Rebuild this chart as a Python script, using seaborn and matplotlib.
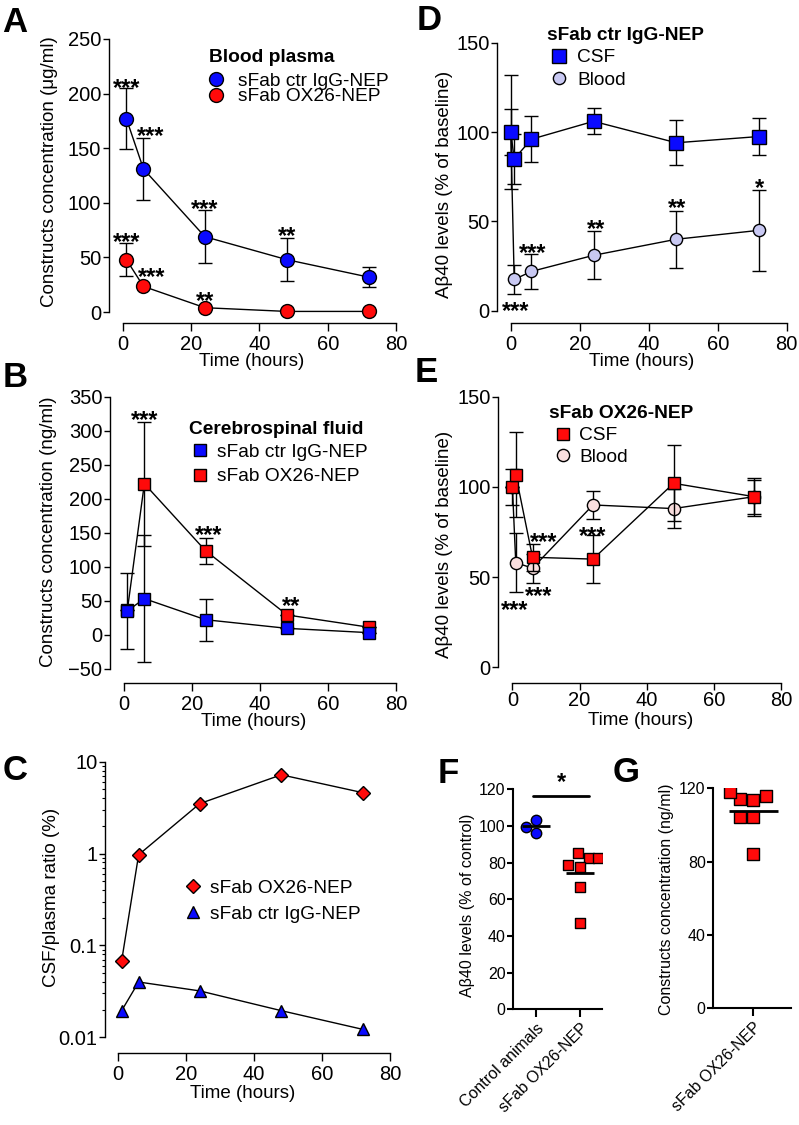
import numpy as np
import pandas as pd
import matplotlib
matplotlib.use("Agg")
import matplotlib.pyplot as plt
from matplotlib.lines import Line2D
from matplotlib.ticker import FixedLocator, FuncFormatter
import seaborn as sns

# ---------------- data ----------------
time_abc = [1, 6, 24, 48, 72]
plasma_ctr = [177, 131, 69, 48, 32]
plasma_ctr_err = [28, 28, 24, 20, 9]
plasma_ox26 = [48, 23.5, 4, 0.6, 0.6]
plasma_ox26_err = [15, 0, 0, 0, 0]

csf_ctr = [35, 53, 22, 9.3, 3]
csf_ctr_err = [56, 93, 31, 0, 0]
csf_ox26 = [36, 222, 123.5, 29, 11]
csf_ox26_err = [0, 91, 19, 0, 0]

ratio_ox26 = [0.068, 0.97, 3.5, 7.2, 4.6]
ratio_ctr = [0.0195, 0.040, 0.032, 0.0195, 0.0122]

time_de = [0, 1, 6, 24, 48, 72]
ctr_csf = [100, 85, 96, 106, 94, 97.5]
ctr_csf_err = [32, 14, 12.7, 7.3, 12.7, 10.2]
ctr_blood = [100, 17.5, 22, 31, 40, 45]
ctr_blood_err = [13, 8.3, 10, 13.5, 16, 22.7]

ox_csf = [100, 106.8, 61, 60, 102, 94.6]
ox_csf_err = [10, 23.4, 7.6, 13.3, 21, 10.6]
ox_blood = [100, 58, 55, 90, 88, 94.6]
ox_blood_err = [0, 16.5, 8, 7.7, 11, 9.5]

f_groups = ["Control animals", "sFab OX26-NEP"]
f_control = [103.5, 99.5, 96.2]
f_ox26 = [82.3, 85.3, 82.3, 77.7, 78.5, 66.8, 47.2]
g_group = ["sFab OX26-NEP"]
g_ox26 = [115.8, 113.6, 114.2, 118.2, 104.5, 104.2, 84.2]

# significance labels: (x, y, text)
stars_a = [(1, 211, "***"), (8, 167, "***"), (24, 100, "***"), (48, 75, "**"),
           (1, 70, "***"), (8.4, 38, "***"), (24, 15.6, "**")]
stars_b = [(6, 325, "***"), (25, 156, "***"), (49, 51, "**")]
stars_d = [(1.5, 3.2, "***"), (6.3, 36, "***"), (24.6, 49, "**"), (48.3, 61, "**"), (72, 72, "*")]
stars_e = [(9.2, 73, "***"), (7.8, 43, "***"), (23.9, 76.5, "***"), (0.8, 35, "***")]

# ---------------- style ----------------
sns.set_theme(style="ticks")
plt.rcParams["font.family"] = ["Liberation Sans", "DejaVu Sans"]
plt.rcParams.update({"axes.edgecolor": "black", "xtick.color": "black",
                     "ytick.color": "black", "text.color": "black",
                     "axes.labelcolor": "black", "axes.linewidth": 1.0})

BLUE = "#0a0aff"
RED = "#ff0a0a"
LAV = "#c8c8f2"
PINK = "#f9dede"

W, H = 799, 1125
fig = plt.figure(figsize=(W / 100, H / 100), dpi=100)
fig.patch.set_facecolor("white")

TICK_FS = 14.5
LAB_FS = 13.5
LEG_FS = 13.8
STAR_FS = 17


def add_ax(l, r, t, b):
    return fig.add_axes([l / W, 1 - b / H, (r - l) / W, (b - t) / H])


def px_frac(ax, xpx, ypx):
    l, b, w, h = ax.get_position().bounds
    return ((xpx / W) - l) / w, ((1 - ypx / H) - b) / h


def style(ax, xb, yb, tfs=TICK_FS, lw=1.0, xpad=2.5, xlen=6):
    sns.despine(ax=ax)
    ax.spines["left"].set_bounds(*yb)
    ax.spines["bottom"].set_bounds(*xb)
    for s in ("left", "bottom"):
        ax.spines[s].set_linewidth(lw)
    ax.tick_params(axis="y", length=4, width=lw, pad=1.5, labelsize=tfs)
    ax.tick_params(axis="x", length=xlen, width=lw, pad=xpad, labelsize=tfs)
    ax.set_facecolor("none")


def series(ax, x, y, err, marker, fc, ms, z):
    ax.errorbar(x, y, yerr=err, fmt="none", ecolor="black", elinewidth=1,
                capsize=4.7, capthick=1, zorder=z - 0.5)
    sns.lineplot(x=x, y=y, ax=ax, color="black", lw=1, marker=marker,
                 markersize=ms, markerfacecolor=fc, markeredgecolor="black",
                 markeredgewidth=1, estimator=None, sort=False, legend=False,
                 zorder=z)


def stars(ax, items):
    for x, y, s in items:
        ax.annotate(s, xy=(x, y), xytext=(0, -0.56 * STAR_FS), textcoords="offset points",
                    ha="center", va="baseline", fontsize=STAR_FS, fontweight="bold",
                    annotation_clip=False)


def legend(ax, entries, x_px, y_px, hl, htp, ls):
    handles = [Line2D([], [], ls="none", marker=m, ms=ms, mfc=fc, mec="black", mew=1)
               for m, fc, ms, _ in entries]
    labels = [e[3] for e in entries]
    leg = ax.legend(handles, labels, loc="upper left",
                    bbox_to_anchor=(x_px / W, 1 - y_px / H), bbox_transform=fig.transFigure,
                    frameon=False, borderpad=0, borderaxespad=0, handlelength=hl,
                    handletextpad=htp, labelspacing=ls, fontsize=LEG_FS)
    return leg


def ylab(ax, text, xr, yc, fs=LAB_FS):
    ax.set_ylabel(text, fontsize=fs)
    ax.yaxis.set_label_coords(*px_frac(ax, xr, yc))


def xlab(ax, text, xc, yt, fs=LAB_FS):
    ax.set_xlabel(text, fontsize=fs)
    ax.xaxis.set_label_coords(*px_frac(ax, xc, yt))


def letter(s, x, yb):
    fig.text(x / W, 1 - yb / H, s, fontsize=25, fontweight="bold", ha="left", va="baseline")


time_ticks = [0, 20, 40, 60, 80]

# ---------------- Panel A ----------------
axA = add_ax(109, 396, 39, 323)
series(axA, time_abc, plasma_ctr, plasma_ctr_err, "o", BLUE, 10, 3)
series(axA, time_abc, plasma_ox26, plasma_ox26_err, "o", RED, 10, 4)
axA.set_xlim(-4.1, 80)
axA.set_ylim(-10, 250)
axA.set_xticks(time_ticks)
axA.set_yticks(range(0, 251, 50))
style(axA, (0, 80), (0, 250))
stars(axA, stars_a)
ylab(axA, "Constructs concentration (μg/ml)", 58, 172)
xlab(axA, "Time (hours)", 252, 353)
fig.text(209 / W, 1 - 62 / H, "Blood plasma", fontsize=LEG_FS, fontweight="bold", ha="left", va="baseline")
legend(axA, [("o", BLUE, 10, "sFab ctr IgG-NEP"), ("o", RED, 10, "sFab OX26-NEP")],
       209, 72.5, 0.75, 0.75, -0.1)

# ---------------- Panel B ----------------
axB = add_ax(110, 396, 396.7, 683.3)
series(axB, time_abc, csf_ox26, csf_ox26_err, "s", RED, 9, 3)
series(axB, time_abc, csf_ctr, csf_ctr_err, "s", BLUE, 9, 4)
axB.set_xlim(-4.1, 80)
axB.set_ylim(-71.5, 350)
axB.set_xticks(time_ticks)
axB.set_yticks(range(-50, 351, 50))
style(axB, (0, 80), (-50, 350))
stars(axB, stars_b)
ylab(axB, "Constructs concentration (ng/ml)", 57, 532)
xlab(axB, "Time (hours)", 254, 713)
fig.text(189.3 / W, 1 - 434 / H, "Cerebrospinal fluid", fontsize=LEG_FS, fontweight="bold", ha="left", va="baseline")
legend(axB, [("s", BLUE, 9, "sFab ctr IgG-NEP"), ("s", RED, 9, "sFab OX26-NEP")],
       189.3, 443.5, 1.14, 0.32, 0.36)

# ---------------- Panel C ----------------
axC = add_ax(105, 390, 761.7, 1052.7)
sns.lineplot(x=time_abc, y=ratio_ox26, ax=axC, color="black", lw=1, marker="D", markersize=6.8,
             markerfacecolor=RED, markeredgecolor="black", markeredgewidth=1,
             estimator=None, sort=False, legend=False, zorder=3)
sns.lineplot(x=time_abc, y=ratio_ctr, ax=axC, color="black", lw=1, marker="^", markersize=9,
             markerfacecolor=BLUE, markeredgecolor="black", markeredgewidth=1,
             estimator=None, sort=False, legend=False, zorder=3)
axC.set_yscale("log")
axC.set_xlim(-3.9, 80)
axC.set_ylim(0.0068, 10)
axC.set_xticks(time_ticks)
axC.yaxis.set_major_locator(FixedLocator([0.01, 0.1, 1, 10]))
axC.yaxis.set_major_formatter(FuncFormatter(lambda v, p: f"{v:g}"))
minor = [m * d for d in (0.01, 0.1, 1) for m in range(2, 10)]
axC.yaxis.set_minor_locator(FixedLocator(minor))
axC.yaxis.set_minor_formatter(FuncFormatter(lambda v, p: ""))
style(axC, (0, 80), (0.01, 10))
axC.tick_params(axis="y", which="minor", length=2, width=0.8)
ylab(axC, "CSF/plasma ratio (%)", 60, 897)
xlab(axC, "Time (hours)", 243, 1085)
legend(axC, [("D", RED, 6.8, "sFab OX26-NEP"), ("^", BLUE, 9, "sFab ctr IgG-NEP")],
       185.2, 879.5, 0.8, 0.49, 0.44)

# ---------------- Panel D ----------------
axD = add_ax(497.3, 786.7, 42.7, 322.7)
series(axD, time_de, ctr_blood, ctr_blood_err, "o", LAV, 8.8, 3)
series(axD, time_de, ctr_csf, ctr_csf_err, "s", BLUE, 9.6, 4)
axD.set_xlim(-3.9, 80)
axD.set_ylim(-6.7, 150)
axD.set_xticks(time_ticks)
axD.set_yticks([0, 50, 100, 150])
style(axD, (0, 80), (0, 150))
stars(axD, stars_d)
ylab(axD, "Aβ40 levels (% of baseline)", 453, 184)
xlab(axD, "Time (hours)", 642, 353)
fig.text(546.7 / W, 1 - 39.5 / H, "sFab ctr IgG-NEP", fontsize=LEG_FS, fontweight="bold", ha="left", va="baseline")
legend(axD, [("s", BLUE, 9.6, "CSF"), ("o", LAV, 8.8, "Blood")],
       546.7, 49, 1.28, 0.32, 0.27)

# ---------------- Panel E ----------------
axE = add_ax(498.3, 781, 396.7, 682.7)
series(axE, time_de, ox_blood, ox_blood_err, "o", PINK, 8.8, 3)
series(axE, time_de, ox_csf, ox_csf_err, "s", RED, 9.2, 4)
axE.set_xlim(-4.2, 80)
axE.set_ylim(-8.5, 150)
axE.set_xticks(time_ticks)
axE.set_yticks([0, 50, 100, 150])
style(axE, (0, 80), (0, 150), xpad=1.2, xlen=5)
stars(axE, stars_e)
ylab(axE, "Aβ40 levels (% of baseline)", 453, 544)
xlab(axE, "Time (hours)", 641, 712)
fig.text(549.3 / W, 1 - 418 / H, "sFab OX26-NEP", fontsize=LEG_FS, fontweight="bold", ha="left", va="baseline")
legend(axE, [("s", RED, 9.2, "CSF"), ("o", PINK, 8.8, "Blood")],
       549.3, 427, 1.43, 0.12, 0.22)

# ---------------- Panel F ----------------
SMALL_FS = 11.5
axF = add_ax(513.3, 601.7, 789.3, 1009.3)
sns.swarmplot(x=["Control animals"] * len(f_control), y=f_control, order=f_groups, ax=axF,
              marker="o", color=BLUE, edgecolor="black", linewidth=1, size=7.5, zorder=3)
sns.swarmplot(x=["sFab OX26-NEP"] * len(f_ox26), y=f_ox26, order=f_groups, ax=axF,
              marker="s", color=RED, edgecolor="black", linewidth=1, size=7.5, zorder=3)
for i, vals in enumerate([f_control, f_ox26]):
    axF.hlines(np.mean(vals), i - 0.32, i + 0.32, color="black", lw=2, zorder=4)
axF.plot([-0.07, 1.2], [116.2, 116.2], color="black", lw=2, clip_on=False)
axF.text(0.565, 117.5, "*", ha="center", va="bottom", fontsize=STAR_FS, fontweight="bold")
axF.set_xlim(-0.52, 1.49)
axF.set_ylim(0, 120)
axF.set_yticks(range(0, 121, 20))
axF.set_xticks([0, 1])
axF.set_xticklabels(f_groups, rotation=45, ha="right", rotation_mode="anchor")
style(axF, (-0.52, 1.49), (0, 120), tfs=SMALL_FS, lw=1.5)
ylab(axF, "Aβ40 levels (% of control)", 475, 905, fs=SMALL_FS)
axF.set_xlabel("")

# ---------------- Panel G ----------------
axG = add_ax(713.3, 790.7, 788.3, 1008.3)
sns.swarmplot(x=g_group * len(g_ox26), y=g_ox26, order=g_group, ax=axG,
              marker="s", color=RED, edgecolor="black", linewidth=1, size=8, zorder=3)
axG.hlines(np.mean(g_ox26), -0.31, 0.31, color="black", lw=2, zorder=4)
axG.set_xlim(-0.5, 0.467)
axG.set_ylim(0, 120)
axG.set_yticks([0, 40, 80, 120])
axG.set_xticks([0])
axG.set_xticklabels(g_group, rotation=45, ha="right", rotation_mode="anchor")
style(axG, (-0.5, 0.467), (0, 120), tfs=SMALL_FS, lw=1.5)
ylab(axG, "Constructs concentration (ng/ml)", 674, 899, fs=SMALL_FS)
axG.set_xlabel("")

# ---------------- letters ----------------
letter("A", 2, 32)
letter("B", 3, 386.7)
letter("C", 3, 780)
letter("D", 417, 30)
letter("E", 415, 381.7)
letter("F", 438, 783)
letter("G", 613, 782)

fig.savefig("out.png", dpi=100, facecolor="white")
